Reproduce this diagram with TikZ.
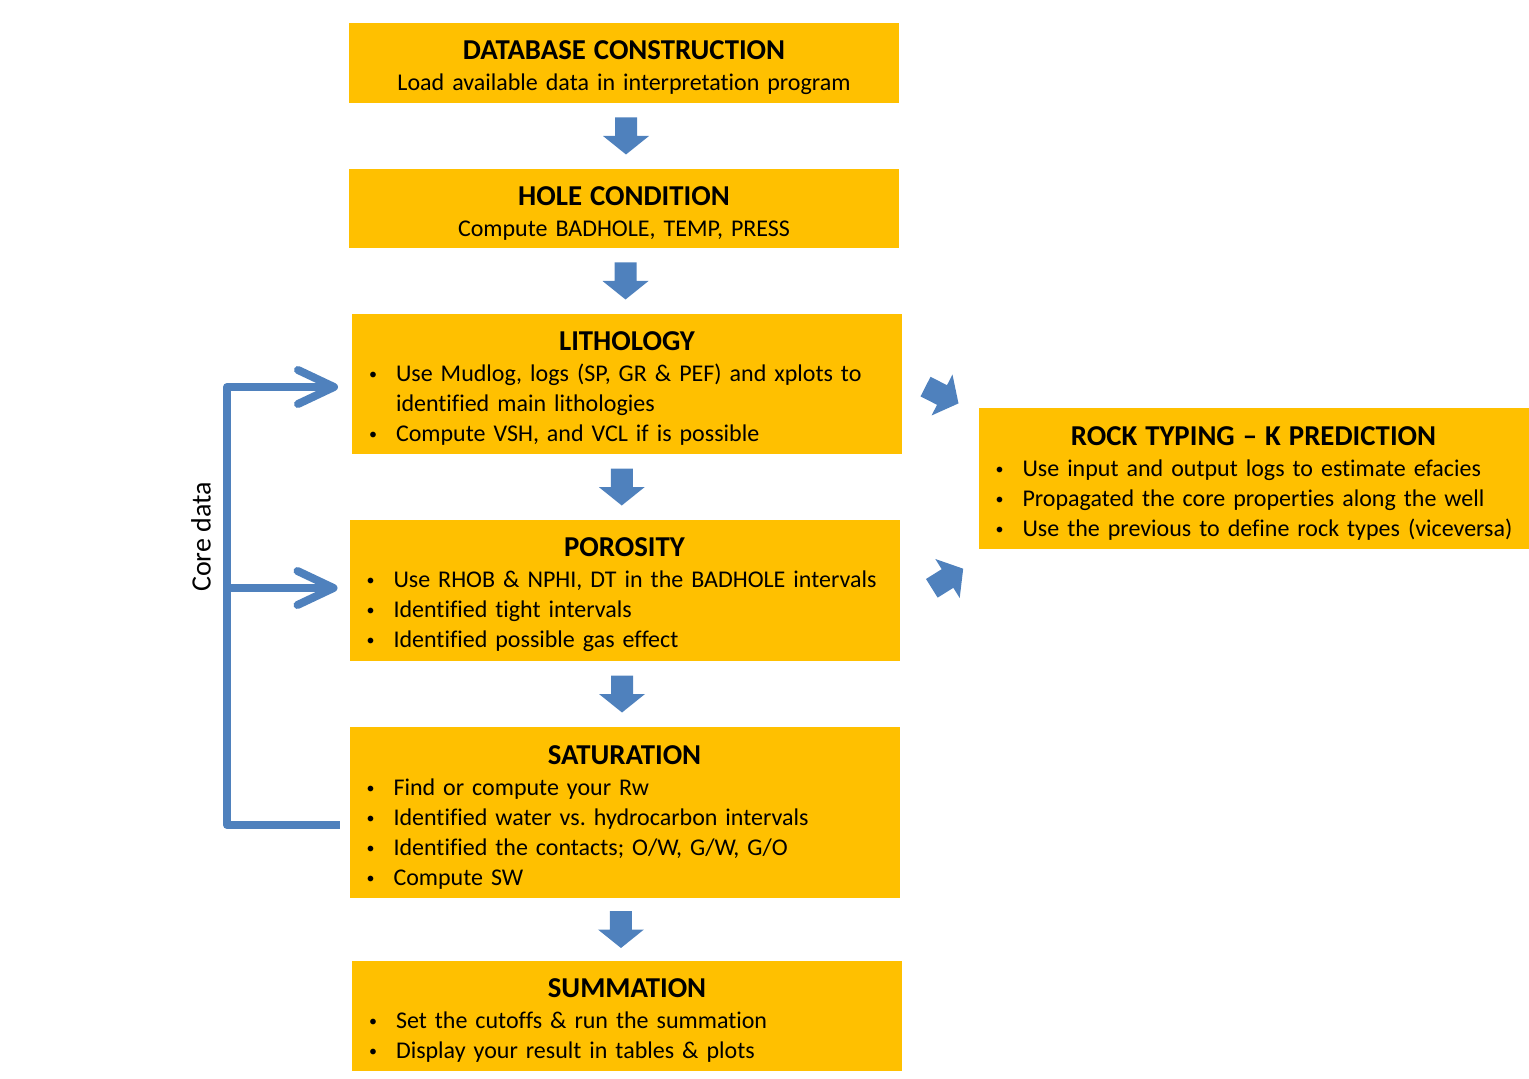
\documentclass[tikz,border=0pt]{standalone}
\usepackage{fontspec}
\setmainfont[Ligatures=NoCommon]{Carlito}
\usepackage{tikz}
\usetikzlibrary{arrows.meta,positioning,calc}
\definecolor{boxyellow}{HTML}{FFC000}
\definecolor{arrowblue}{HTML}{4F81BD}
\frenchspacing
\newcommand{\boxtitle}[1]{\vskip-2pt{\noindent\centering\fontsize{14.4}{16}\selectfont\bfseries #1\par}\vskip0.5pt}
\newcommand{\boxline}[1]{{\noindent\centering #1\par}}
\newcommand{\bitem}[1]{\noindent\makebox[12pt][l]{\hspace*{-1.5pt}\raisebox{1pt}{\fontsize{8}{8}\selectfont\textbullet}}\mbox{#1}\par}
\newcommand{\bcont}[1]{\noindent\hspace*{12pt}\mbox{#1}\par}

\begin{document}
\begin{tikzpicture}[x=0.5pt, y=-0.5pt, node distance=33pt]
\tikzstyle{stepbox}=[fill=boxyellow, text width=255pt, inner xsep=10pt, inner ysep=0pt, outer sep=0pt, align=left, font=\fontsize{12}{15}\selectfont]
\tikzstyle{coreline}=[draw=arrowblue, line width=4pt, line join=round, -{Straight Barb[length=18pt,width=17pt,round]}]
\tikzset{downarrow/.pic={\fill[arrowblue] (-11,-18.5) -- (11,-18.5) -- (11,0) -- (23,0) -- (0,18.5) -- (-23,0) -- (-11,0) -- cycle;}}
\useasboundingbox (0,0) rectangle (1529,1079);

\node[stepbox, minimum height=40pt] (db) at (624,63)
  {\boxtitle{DATABASE CONSTRUCTION}\boxline{Load available data in interpretation program}};
\node[stepbox, minimum height=39.5pt] (hole) [below=of db]
  {\boxtitle{HOLE CONDITION}\boxline{Compute BADHOLE, TEMP, PRESS}};
\node[stepbox, minimum height=70pt] (litho) [below=of hole, xshift=1.5pt]
  {\boxtitle{LITHOLOGY}
   \bitem{Use Mudlog, logs (SP, GR \& PEF) and xplots to}
   \bcont{identified main lithologies}
   \bitem{Compute VSH, and VCL if is possible}};
\node[stepbox, minimum height=70.5pt] (poro) [below=of litho, xshift=-1.25pt]
  {\boxtitle{POROSITY}
   \bitem{Use RHOB \& NPHI, DT in the BADHOLE intervals}
   \bitem{Identified tight intervals}
   \bitem{Identified possible gas effect}};
\node[stepbox, minimum height=85.5pt] (satur) [below=of poro]
  {\boxtitle{SATURATION}
   \bitem{Find or compute your Rw}
   \bitem{Identified water vs. hydrocarbon intervals}
   \bitem{Identified the contacts; O/W, G/W, G/O}
   \bitem{Compute SW}};
\node[stepbox, minimum height=55pt] (summ) [below=31.5pt of satur, xshift=1.25pt]
  {\boxtitle{SUMMATION}
   \bitem{Set the cutoffs \& run the summation}
   \bitem{Display your result in tables \& plots}};
\node[stepbox, minimum height=70.5pt] (rock) at (1253.5,478.5)
  {\boxtitle{ROCK TYPING -- K PREDICTION}
   \bitem{Use input and output logs to estimate efacies}
   \bitem{Propagated the core properties along the well}
   \bitem{Use the previous to define rock types (viceversa)}};

% block arrows
\pic at ($(db.south)!0.5!(hole.north)+(1pt,0)$) {downarrow};
\pic at ($(hole.south)!0.5!(litho.north)$) {downarrow};
\pic at ($(litho.south)!0.5!(poro.north)+(-2pt,0)$) {downarrow};
\pic at ($(poro.south)!0.5!(satur.north)+(-1.25pt,0)$) {downarrow};
\pic at ($(satur.south)!0.5!(summ.north)+(-2.4pt,0)$) {downarrow};
\pic[rotate=63] at ([xshift=20pt,yshift=-5.5pt]litho.east) {downarrow};
\pic[rotate=122] at ([xshift=24pt,yshift=6pt]poro.east) {downarrow};

% core data
\draw[coreline] ([xshift=-5pt,yshift=-6.25pt]satur.west) -| ([xshift=-62.5pt,yshift=-1.5pt]litho.west) -- ([xshift=-7pt,yshift=-1.5pt]litho.west);
\draw[coreline] ([xshift=-61.5pt,yshift=1.25pt]poro.west) -- ([xshift=-6pt,yshift=1.25pt]poro.west);
\node[rotate=90, font=\fontsize{14}{16}\selectfont] (corelbl) at (201,537) {Core data};

\end{tikzpicture}
\end{document}
